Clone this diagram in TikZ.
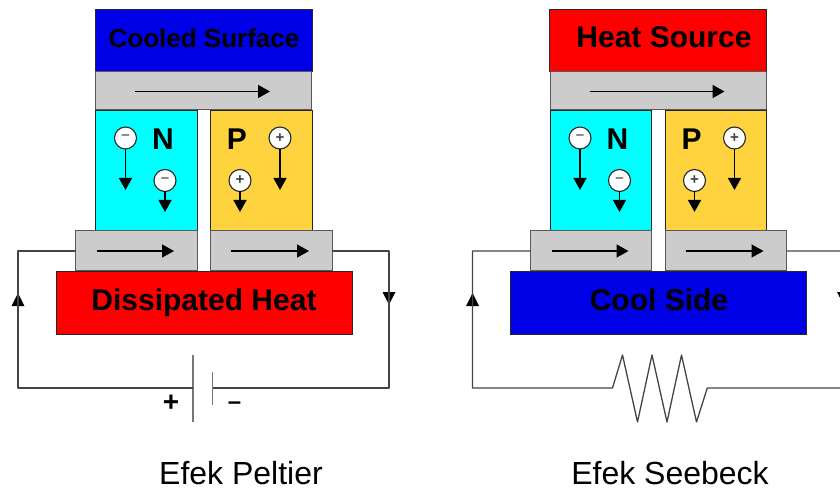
\documentclass[tikz,border=0pt]{standalone}
\usepackage{fontspec}
\setmainfont{Liberation Sans}
\usetikzlibrary{arrows.meta}
\newcommand{\fs}[1]{\fontsize{#1pt}{#1pt}\selectfont}
\definecolor{wirecol}{HTML}{444444}
\definecolor{platecol}{HTML}{777777}
\definecolor{graybox}{HTML}{CCCCCC}
\definecolor{ptype}{HTML}{FFD33D}
\definecolor{hot}{HTML}{FF0000}
\definecolor{cold}{HTML}{0000E6}
\definecolor{ntype}{HTML}{00FFFF}
\tikzset{
  block/.style={draw=black!85,line width=1pt,outer sep=0pt,inner sep=0pt,anchor=north west},
  metal/.style={block,draw=black!65,fill=graybox},
  wire/.style={draw=wirecol,line width=1.3pt,line join=round},
  plate/.style={draw=platecol,line width=1.6pt},
  flow/.style={black,line width=1.5pt,-{Triangle[length=12pt,width=13pt]}},
  wirearrow/.style={draw=none,fill=black},
  carrier/.style={circle,draw=black!85,fill=white,line width=1.1pt,minimum size=22pt,inner sep=0pt,outer sep=0pt,font=\bfseries\fs{15}},
  letter/.style={font=\bfseries\fs{30},inner sep=0pt},
  boxlabel/.style={font=\bfseries\fs{30},inner sep=0pt,text=black,anchor=base},
  caption/.style={font=\fs{32},inner sep=0pt,anchor=base,text=black}
}
% #1 top colour, #2 bottom colour
\newcommand{\module}[2]{
  \node[block,fill=#1,minimum width=217pt,minimum height=62pt] (top) at (95,9.5) {};
  \node[metal,minimum width=216pt,minimum height=38pt] (gtop) at (95.5,72) {};
  \node[block,fill=ntype,minimum width=101.5pt,minimum height=120pt] (n) at (95.5,110.5) {};
  \node[block,fill=ptype,minimum width=101.5pt,minimum height=120pt] (p) at (210.5,110.5) {};
  \node[metal,minimum width=121.5pt,minimum height=40pt] (gl) at (75.5,230.5) {};
  \node[metal,minimum width=121.5pt,minimum height=40pt] (gr) at (210.5,230.5) {};
  \node[block,fill=#2,minimum width=296pt,minimum height=63pt] (base) at (56,271) {};
  \coordinate (a1) at (135,91.5); \coordinate (a2) at (270,91.5);
  \coordinate (b1) at (97,251); \coordinate (b2) at (174,251);
  \coordinate (c1) at (231,251); \coordinate (c2) at (309,251);
  \draw[flow] (a1) -- (a2);
  \draw[flow] (b1) -- (b2);
  \draw[flow] (c1) -- (c2);
  \node[letter] (nl) at (163,139) {N};
  \node[letter] (pl) at (237,139) {P};
  \node[carrier,text=black!60] (e1) at (125.5,138) {\raisebox{1pt}{–}};
  \node[carrier,text=black!60] (e2) at (165,180.5) {\raisebox{1pt}{–}};
  \node[carrier,text=black!75] (h1) at (280,138) {+};
  \node[carrier,text=black!75] (h2) at (240,180.5) {+};
  \coordinate (e1t) at (125.5,190); \coordinate (e2t) at (165,212);
  \coordinate (h1t) at (280,190); \coordinate (h2t) at (240,212);
  \draw[flow] (e1) -- (e1t);
  \draw[flow] (e2) -- (e2t);
  \draw[flow] (h1) -- (h1t);
  \draw[flow] (h2) -- (h2t);
  \coordinate (ll) at (18,251);
  \coordinate (lb) at (18,388);
  \coordinate (rr) at (389,251);
  \coordinate (rb) at (389,388);
  \fill[wirearrow] (18,293) -- (24.5,306) -- (11.5,306) -- cycle;
  \fill[wirearrow] (389,304.5) -- (395.5,292) -- (382.5,292) -- cycle;
}
\begin{document}
\begin{tikzpicture}[x=1pt,y=-1pt]
\useasboundingbox (0,0) rectangle (840,489);
\clip (0,0) rectangle (840,489);
\fill[white] (0,0) rectangle (840,489);

\begin{scope}
  \module{cold}{hot}
  \node[boxlabel,font=\bfseries\fs{26}] (t1) at (204,48) {Cooled Surface};
  \node[boxlabel] (t2) at (204,310.5) {Dissipated Heat};
  \coordinate (bplus) at (193,388);
  \coordinate (bminus) at (212.5,388);
  \coordinate (bp1) at (193,355); \coordinate (bp2) at (193,422);
  \coordinate (bm1) at (212.5,372); \coordinate (bm2) at (212.5,405);
  \draw[plate] (bp1) -- (bp2);
  \draw[plate] (bm1) -- (bm2);
  \draw[wire] (gl.west |- ll) -- (ll) -- (lb) -- (bplus);
  \draw[wire] (gr.east |- rr) -- (rr) -- (rb) -- (bminus);
  \node[font=\bfseries\fs{28},inner sep=0pt] (plus) at (171,403) {+};
  \node[font=\bfseries\fs{24},inner sep=0pt] (minus) at (234.5,406) {–};
  \node[caption] (cap1) at (241,484.5) {Efek Peltier};
\end{scope}

\begin{scope}[xshift=454.5pt]
  \module{hot}{cold}
  \node[boxlabel] (t3) at (209.5,47.5) {Heat Source};
  \node[boxlabel] (t4) at (204.5,310) {Cool Side};
  \coordinate (r0) at (158,388);
  \coordinate (r1) at (168,355);
  \coordinate (r2) at (183,422);
  \coordinate (r3) at (197.5,355);
  \coordinate (r4) at (212.5,422);
  \coordinate (r5) at (227,355);
  \coordinate (r6) at (242,422);
  \coordinate (r7) at (252.8,388);
  \draw[wire] (gl.west |- ll) -- (ll) -- (lb) -- (r0) -- (r1) -- (r2) -- (r3) -- (r4) -- (r5) -- (r6) -- (r7) -- (rb) -- (rr) -- (gr.east |- rr);
  \node[caption] (cap2) at (215.5,484.5) {Efek Seebeck};
\end{scope}
\end{tikzpicture}
\end{document}
